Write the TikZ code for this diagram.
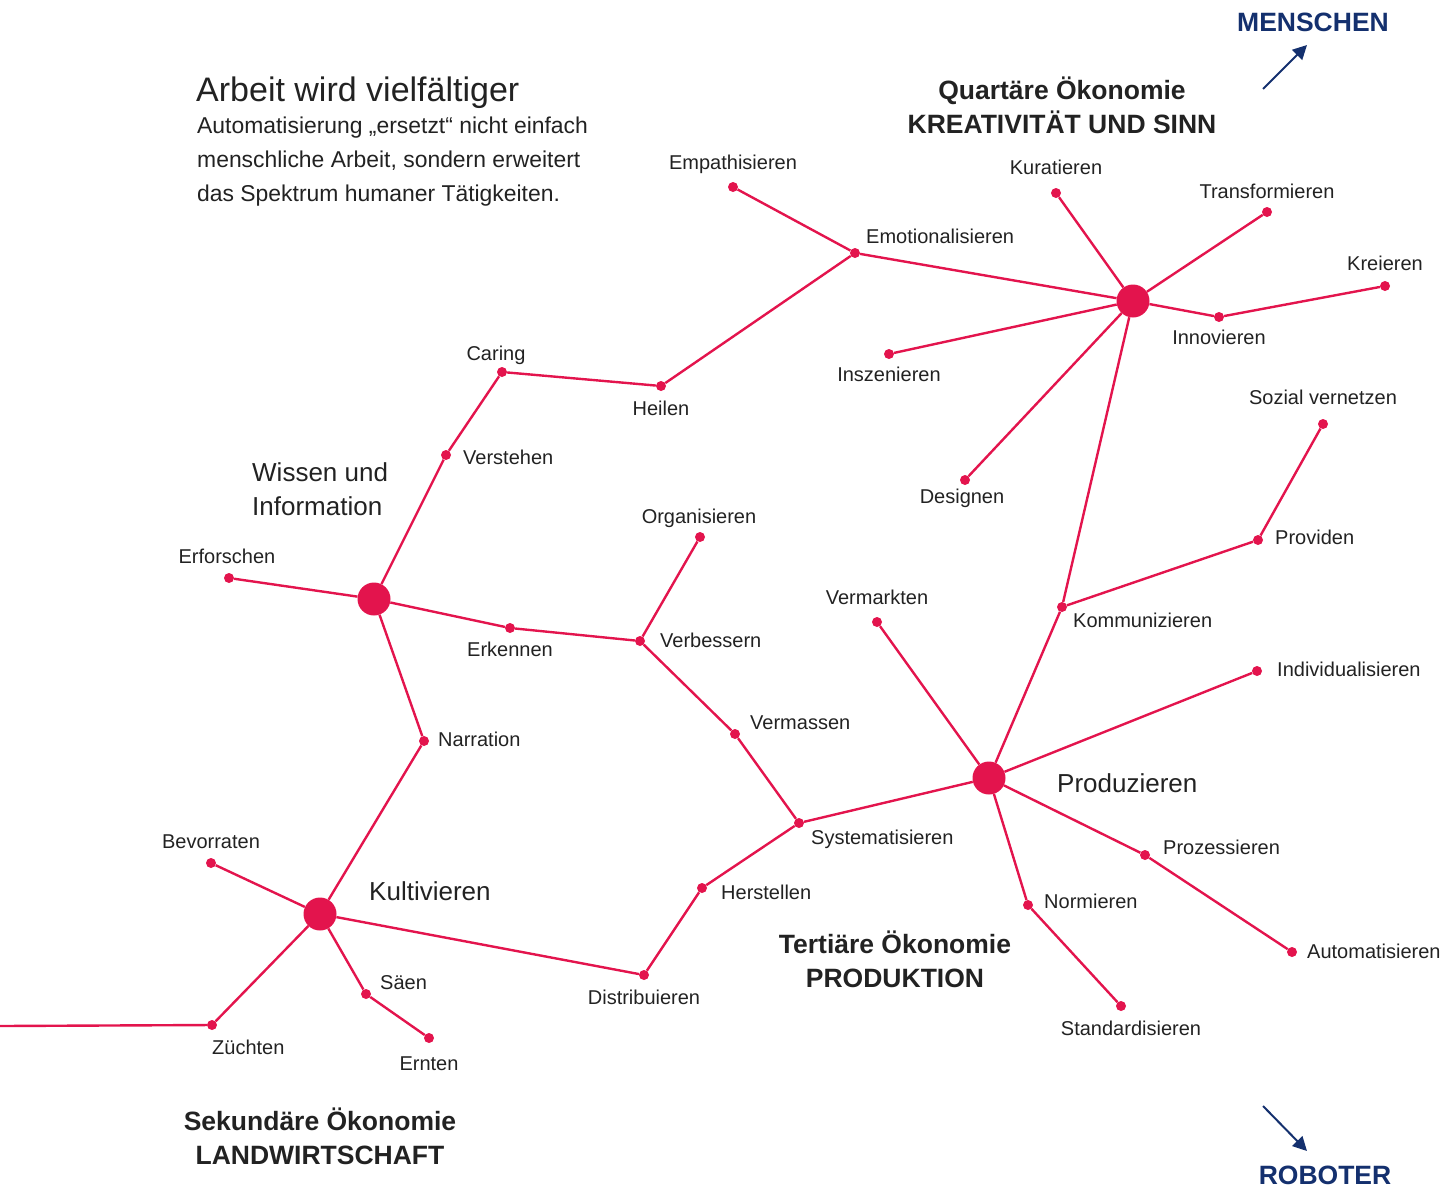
\documentclass[tikz,border=0pt]{standalone}
\usepackage{fontspec}
\setmainfont{Liberation Sans}
\usetikzlibrary{arrows.meta}
\definecolor{crim}{HTML}{E3144D}
\definecolor{navy}{HTML}{14306E}
\definecolor{ink}{HTML}{222222}
\begin{document}
\begin{tikzpicture}[x=1pt,y=-1pt,
  edge/.style={draw=crim,line width=2.4pt},
  dot/.style={circle,fill=crim,inner sep=0pt,minimum size=10pt},
  hub/.style={circle,fill=crim,inner sep=0pt,minimum size=33pt},
  lbl/.style={inner sep=0pt,text=ink,font=\fontsize{20}{24}\selectfont,text height=1.5ex,text depth=.25ex,yshift=-3.5pt},
  big/.style={inner sep=0pt,text=ink,font=\fontsize{26}{34}\selectfont,align=left},
  eco/.style={inner sep=0pt,text=ink,font=\fontsize{26.5}{34}\bfseries\selectfont,align=center},
  side/.style={inner sep=0pt,text=navy,font=\fontsize{26.5}{30}\bfseries\selectfont},
  dir/.style={draw=navy,line width=2pt,-{Triangle[length=14pt,width=14pt]}}]
\useasboundingbox (0,0) rectangle (1454,1187);

% hubs
\node[hub] (Q) at (1133,301) {};
\node[hub] (W) at (374,599) {};
\node[hub] (P) at (989,778) {};
\node[hub] (K) at (320,914) {};

% activity dots
\node[dot] (emp) at (733,187) {};
\node[dot] (emo) at (855,253) {};
\node[dot] (kur) at (1056,193) {};
\node[dot] (tra) at (1267,212) {};
\node[dot] (kre) at (1385,286) {};
\node[dot] (inn) at (1219,317) {};
\node[dot] (ins) at (889,354) {};
\node[dot] (des) at (965,480) {};
\node[dot] (car) at (502,372) {};
\node[dot] (hei) at (661,386) {};
\node[dot] (ver) at (446,455) {};
\node[dot] (erf) at (229,578) {};
\node[dot] (erk) at (510,628) {};
\node[dot] (vbs) at (640,641) {};
\node[dot] (org) at (700,537) {};
\node[dot] (vms) at (735,734) {};
\node[dot] (sys) at (799,823) {};
\node[dot] (her) at (702,888) {};
\node[dot] (dis) at (644,975) {};
\node[dot] (nar) at (424,741) {};
\node[dot] (bev) at (211,863) {};
\node[dot] (sae) at (366,994) {};
\node[dot] (ern) at (429,1038) {};
\node[dot] (zue) at (212,1025) {};
\coordinate (lft) at (0,1026);
\node[dot] (vmk) at (877,622) {};
\node[dot] (kom) at (1062,607) {};
\node[dot] (pro) at (1258,540) {};
\node[dot] (soz) at (1323,424) {};
\node[dot] (ind) at (1257,671) {};
\node[dot] (prz) at (1145,855) {};
\node[dot] (aut) at (1292,952) {};
\node[dot] (nor) at (1028,905) {};
\node[dot] (std) at (1121,1006) {};

% connections
\draw[edge] (emp) -- (emo);
\draw[edge] (emo) -- (Q);
\draw[edge] (emo) -- (hei);
\draw[edge] (hei) -- (car);
\draw[edge] (car) -- (ver);
\draw[edge] (ver) -- (W);
\draw[edge] (W) -- (erf);
\draw[edge] (W) -- (erk);
\draw[edge] (erk) -- (vbs);
\draw[edge] (vbs) -- (org);
\draw[edge] (vbs) -- (vms);
\draw[edge] (vms) -- (sys);
\draw[edge] (sys) -- (P);
\draw[edge] (sys) -- (her);
\draw[edge] (her) -- (dis);
\draw[edge] (dis) -- (K);
\draw[edge] (W) -- (nar);
\draw[edge] (nar) -- (K);
\draw[edge] (K) -- (bev);
\draw[edge] (K) -- (sae);
\draw[edge] (sae) -- (ern);
\draw[edge] (K) -- (zue);
\draw[edge] (zue) -- (lft);
\draw[edge] (Q) -- (kur);
\draw[edge] (Q) -- (tra);
\draw[edge] (Q) -- (inn);
\draw[edge] (inn) -- (kre);
\draw[edge] (Q) -- (ins);
\draw[edge] (Q) -- (des);
\draw[edge] (Q) -- (kom);
\draw[edge] (kom) -- (P);
\draw[edge] (kom) -- (pro);
\draw[edge] (pro) -- (soz);
\draw[edge] (P) -- (vmk);
\draw[edge] (P) -- (ind);
\draw[edge] (P) -- (prz);
\draw[edge] (prz) -- (aut);
\draw[edge] (P) -- (nor);
\draw[edge] (nor) -- (std);

% activity labels
\node[lbl] (tEmp) at (733,163) {Empathisieren};
\node[lbl,anchor=west] (tEmo) at (866,237) {Emotionalisieren};
\node[lbl] (tKur) at (1056,168) {Kuratieren};
\node[lbl] (tTra) at (1267,192) {Transformieren};
\node[lbl] (tKre) at (1385,264) {Kreieren};
\node[lbl] (tInn) at (1219,338) {Innovieren};
\node[lbl] (tIns) at (889,375) {Inszenieren};
\node[lbl] (tDes) at (962,497) {Designen};
\node[lbl] (tCar) at (496,354) {Caring};
\node[lbl] (tHei) at (661,409) {Heilen};
\node[lbl,anchor=west] (tVer) at (463,458) {Verstehen};
\node[lbl] (tErf) at (227,557) {Erforschen};
\node[lbl] (tOrg) at (699,517) {Organisieren};
\node[lbl,anchor=west] (tVbs) at (660,641) {Verbessern};
\node[lbl] (tErk) at (510,650) {Erkennen};
\node[lbl,anchor=west] (tNar) at (438,740) {Narration};
\node[lbl,anchor=west] (tVms) at (750,723) {Vermassen};
\node[lbl,anchor=west] (tSys) at (811,838) {Systematisieren};
\node[lbl,anchor=west] (tHer) at (721,893) {Herstellen};
\node[lbl] (tDis) at (644,998) {Distribuieren};
\node[lbl] (tBev) at (211,842) {Bevorraten};
\node[lbl,anchor=west] (tSae) at (380,983) {Säen};
\node[lbl] (tErn) at (429,1064) {Ernten};
\node[lbl,anchor=west] (tZue) at (212,1048) {Züchten};
\node[lbl] (tVmk) at (877,598) {Vermarkten};
\node[lbl,anchor=west] (tKom) at (1073,621) {Kommunizieren};
\node[lbl,anchor=west] (tPro) at (1275,538) {Providen};
\node[lbl] (tSoz) at (1323,398) {Sozial vernetzen};
\node[lbl,anchor=west] (tInd) at (1277,670) {Individualisieren};
\node[lbl,anchor=west] (tPrz) at (1163,848) {Prozessieren};
\node[lbl,anchor=west] (tAut) at (1307,952) {Automatisieren};
\node[lbl,anchor=west] (tNor) at (1044,902) {Normieren};
\node[lbl] (tStd) at (1131,1029) {Standardisieren};

% hub labels
\node[big,anchor=west] (tWis) at (252,489) {Wissen und\\Information};
\node[big,anchor=west] (tKul) at (369,891) {Kultivieren};
\node[big,anchor=west] (tPrd) at (1057,783) {Produzieren};

% economy labels
\node[eco] (eQ) at (1062,105) {Quartäre Ökonomie\\KREATIVITÄT UND SINN};
\node[eco] (eT) at (895,959) {Tertiäre Ökonomie\\PRODUKTION};
\node[eco] (eS) at (320,1136) {Sekundäre Ökonomie\\LANDWIRTSCHAFT};

% heading (multi-line text: base anchor sits on the last line)
\node[inner sep=0pt,anchor=base west,text=ink,font=\fontsize{34}{38}\selectfont] (head) at (196,101) {Arbeit wird vielfältiger};
\node[inner sep=0pt,anchor=base west,text=ink,align=left,font=\fontsize{22.9}{34}\selectfont] (sub) at (197,201) {Automatisierung „ersetzt“ nicht einfach\\menschliche Arbeit, sondern erweitert\\das Spektrum humaner Tätigkeiten.};

% direction markers
\node[side] (men) at (1313,22) {MENSCHEN};
\node[side] (rob) at (1325,1175) {ROBOTER};
\coordinate (m0) at (1263,89);
\coordinate (m1) at (1307,45);
\coordinate (r0) at (1263,1106);
\coordinate (r1) at (1307,1151);
\draw[dir] (m0) -- (m1);
\draw[dir] (r0) -- (r1);
\end{tikzpicture}
\end{document}
